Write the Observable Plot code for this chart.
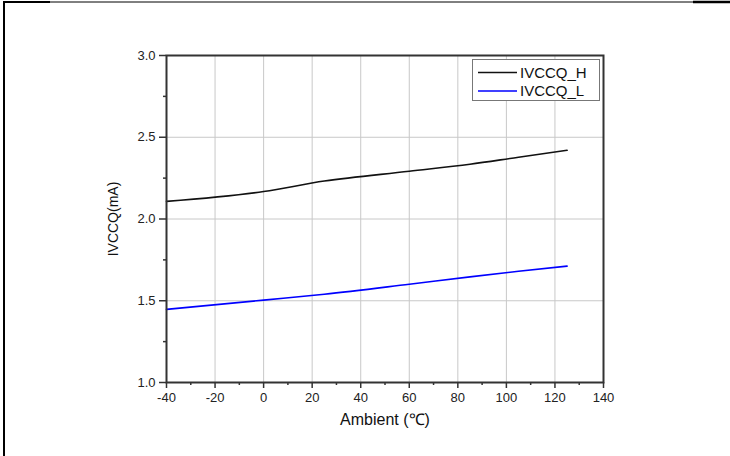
<!DOCTYPE html>
<html>
<head>
<meta charset="utf-8">
<script src="https://cdn.jsdelivr.net/npm/d3@7"></script>
<script src="https://cdn.jsdelivr.net/npm/@observablehq/plot@0.6"></script>
<style>
  html, body { margin: 0; padding: 0; background: #fff; }
  #chart svg { display: block; }
</style>
</head>
<body>
<div id="chart"></div>
<script>
// ---- data ----
const temps = [-40, 0, 25, 60, 85, 105, 125];
const ivccqH = [2.108, 2.168, 2.232, 2.292, 2.335, 2.378, 2.42];
const ivccqL = [1.447, 1.504, 1.54, 1.601, 1.646, 1.68, 1.712];
const seriesNames = ["IVCCQ_H", "IVCCQ_L"];
const seriesColors = ["#111111", "#0000ff"];
const xTicks = [-40, -20, 0, 20, 40, 60, 80, 100, 120, 140];
const xMinor = [-30, -10, 10, 30, 50, 70, 90, 110, 130];
const yTicks = [1.0, 1.5, 2.0, 2.5, 3.0];
const yMinor = [1.25, 1.75, 2.25, 2.75];
const xLabel = "Ambient (\u2103)";
const yLabel = "IVCCQ(mA)";

const rows = [];
temps.forEach((t, i) => {
  rows.push({t, v: ivccqH[i], s: seriesNames[0]});
  rows.push({t, v: ivccqL[i], s: seriesNames[1]});
});

const font = "'Liberation Sans', Arial, sans-serif";
const axisColor = "#333";

const plot = Plot.plot({
  width: 730,
  height: 456,
  marginLeft: 166,
  marginRight: 127,
  marginTop: 55,
  marginBottom: 74,
  style: {fontFamily: font, fontSize: "13px", color: "#222", background: "#fff"},
  x: {domain: [-40, 140]},
  y: {domain: [1.0, 3.0]},
  color: {domain: seriesNames, range: seriesColors},
  marks: [
    Plot.gridX(xTicks, {stroke: "#c8c8c8", strokeOpacity: 1, strokeWidth: 1}),
    Plot.gridY(yTicks, {stroke: "#c8c8c8", strokeOpacity: 1, strokeWidth: 1}),
    Plot.line(rows, {x: "t", y: "v", z: "s", stroke: "s", strokeWidth: 1.6, curve: "monotone-x"}),
    Plot.frame({stroke: axisColor, strokeWidth: 2}),
    Plot.axisX(xTicks, {tickSize: 6, tickPadding: 4, stroke: axisColor, strokeWidth: 1.5, label: null, fontSize: 13, tickFormat: d => String(d)}),
    Plot.axisX(xMinor, {tickSize: 3, stroke: axisColor, strokeWidth: 1.5, text: null, label: null}),
    Plot.axisY(yTicks, {tickSize: 7, tickPadding: 4, stroke: axisColor, strokeWidth: 1.5, tickFormat: d3.format(".1f"), label: null, fontSize: 13}),
    Plot.axisY(yMinor, {tickSize: 3, stroke: axisColor, strokeWidth: 1.5, text: null, label: null}),
    Plot.text([xLabel], {frameAnchor: "bottom", dy: 42, text: d => d, fontSize: 16, fill: "#111", textAnchor: "middle"}),
    Plot.text([yLabel], {frameAnchor: "left", dx: -53, rotate: -90, text: d => d, fontSize: 14, fill: "#111", textAnchor: "middle"})
  ]
});

document.getElementById("chart").appendChild(plot);

// legend and page border
const svg = d3.select(plot);
const lg = svg.append("g");
const lx = 472, ly = 59, lw = 127, lh = 41;
lg.append("rect").attr("x", lx + 0.5).attr("y", ly + 0.5).attr("width", lw).attr("height", lh)
  .attr("fill", "#fff").attr("stroke", "#777").attr("stroke-width", 1);
seriesNames.forEach((name, i) => {
  const yy = ly + 13.5 + i * 18.5;
  lg.append("line").attr("x1", lx + 6).attr("x2", lx + 45).attr("y1", yy).attr("y2", yy)
    .attr("stroke", seriesColors[i]).attr("stroke-width", 1.6);
  lg.append("text").attr("x", lx + 48).attr("y", yy).attr("dy", "0.36em")
    .style("font-family", font).style("font-size", "15px").style("text-anchor", "start")
    .attr("fill", "#111").text(name);
});

const bd = svg.append("g");
bd.append("line").attr("x1", 4).attr("x2", 4).attr("y1", 1).attr("y2", 456).attr("stroke", "#000").attr("stroke-width", 2);
bd.append("line").attr("x1", 3).attr("x2", 50).attr("y1", 2).attr("y2", 2).attr("stroke", "#000").attr("stroke-width", 2);
bd.append("line").attr("x1", 50).attr("x2", 693).attr("y1", 2).attr("y2", 2).attr("stroke", "#000").attr("stroke-width", 1);
bd.append("line").attr("x1", 693).attr("x2", 730).attr("y1", 2).attr("y2", 2).attr("stroke", "#000").attr("stroke-width", 2.5);
</script>
</body>
</html>
